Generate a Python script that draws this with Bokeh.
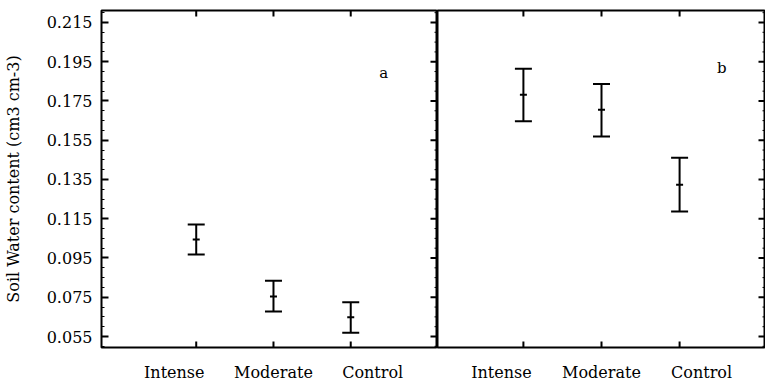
import math
from bokeh.plotting import figure
from bokeh.models import Range1d, FixedTicker, Whisker, ColumnDataSource, Label, TeeHead
from bokeh.layouts import row
from bokeh.embed import file_html
from bokeh.resources import INLINE

# ---- data ----
categories = ["Intense", "Moderate", "Control"]
a_mean = [0.1044, 0.0754, 0.0648]
a_upper = [0.1121, 0.0834, 0.0725]
a_lower = [0.0968, 0.0677, 0.0569]
b_mean = [0.1782, 0.1705, 0.1323]
b_upper = [0.1914, 0.1836, 0.1461]
b_lower = [0.1647, 0.1569, 0.1187]
y_ticks = [0.055, 0.075, 0.095, 0.115, 0.135, 0.155, 0.175, 0.195, 0.215]
panel_labels = ["a", "b"]
y_title = "Soil Water content (cm3 cm-3)"

FONT = "DejaVu Serif"
Y0, Y1 = 0.0494, 0.2211
minor_y = [round(0.050 + 0.005 * i, 3) for i in range(35)]
minor_y = [m for m in minor_y if m not in y_ticks and Y0 < m < Y1]
x_pos = [i + 1 for i in range(len(categories))]
label_dx = [-22, 0, 22]   # px: category names are spread wider than the ticks


def make_panel(mean, upper, lower, xs, xe, width, left_border, ylabels, tag, tag_x, tag_y):
    p = figure(width=width, height=384, output_backend="svg", toolbar_location=None,
               x_range=Range1d(xs, xe), y_range=Range1d(Y0, Y1),
               y_axis_location="left" if ylabels else None,
               min_border_left=left_border, min_border_right=0,
               min_border_top=10, min_border_bottom=0)
    p.grid.visible = False
    p.outline_line_color = "black"
    p.outline_line_width = 2
    p.background_fill_color = "white"
    p.border_fill_color = "white"

    if ylabels:
        ly = p.yaxis[0]
        ly.ticker = FixedTicker(ticks=y_ticks, minor_ticks=minor_y)
        ly.axis_line_color = None
        ly.major_tick_in = 7
        ly.major_tick_out = 0
        ly.minor_tick_in = 3
        ly.minor_tick_out = 0
        ly.major_tick_line_width = 2
        ly.major_tick_line_color = "black"
        ly.minor_tick_line_color = "black"
        ly.major_label_text_font = FONT
        ly.major_label_text_font_size = "16px"
        ly.major_label_text_color = "black"
        ly.major_label_standoff = 9
        ly.axis_label = y_title
        ly.axis_label_text_font = FONT
        ly.axis_label_text_font_size = "16px"
        ly.axis_label_text_font_style = "normal"
        ly.axis_label_text_color = "black"
        ly.axis_label_standoff = 21

    # bottom axis: only carries the category names (tick marks drawn separately)
    frame_w = width - left_border
    px_per_unit = frame_w / (xe - xs)
    name_pos = [x + dx / px_per_unit for x, dx in zip(x_pos, label_dx)]
    bx = p.xaxis[0]
    bx.ticker = FixedTicker(ticks=name_pos, minor_ticks=[])
    bx.major_label_overrides = {v: c for v, c in zip(name_pos, categories)}
    bx.axis_line_color = None
    bx.major_tick_line_color = None
    bx.major_tick_in = 0
    bx.major_tick_out = 0
    bx.minor_tick_line_color = None
    bx.major_label_text_font = FONT
    bx.major_label_text_font_size = "16px"
    bx.major_label_text_color = "black"
    bx.major_label_standoff = 15

    # inward tick marks on right, top and bottom frame edges (clipped to the frame)
    p.scatter(x=[xe] * len(y_ticks), y=y_ticks, marker="dash", size=14, line_width=2,
              color="black")
    p.scatter(x=[xe] * len(minor_y), y=minor_y, marker="dash", size=6, line_width=1,
              color="black")
    p.scatter(x=x_pos, y=[Y1] * len(x_pos), marker="dash", angle=math.pi / 2, size=12,
              line_width=2, color="black")
    p.scatter(x=x_pos, y=[Y0] * len(x_pos), marker="dash", angle=math.pi / 2, size=12,
              line_width=2, color="black")

    src = ColumnDataSource(dict(x=x_pos, mean=mean, upper=upper, lower=lower))
    w = Whisker(base="x", upper="upper", lower="lower", source=src,
                line_color="black", line_width=2,
                upper_head=TeeHead(size=17, line_width=2, line_color="black"),
                lower_head=TeeHead(size=17, line_width=2, line_color="black"))
    p.add_layout(w)
    p.scatter("x", "mean", source=src, marker="dash", size=7, line_width=2, color="black")

    p.add_layout(Label(x=tag_x, y=tag_y, text=tag, text_font=FONT, text_font_size="15px",
                       text_align="center", text_baseline="middle", text_color="black"))
    return p


p1 = make_panel(a_mean, a_upper, a_lower, -0.226, 4.123, 437, 100, True,
                panel_labels[0], 3.426, 0.1895)
p2 = make_panel(b_mean, b_upper, b_lower, -0.10, 4.10, 328, 0, False,
                panel_labels[1], 3.54, 0.192)

layout = row(p1, p2, spacing=0)
open("out.html", "w").write(file_html(layout, INLINE))
